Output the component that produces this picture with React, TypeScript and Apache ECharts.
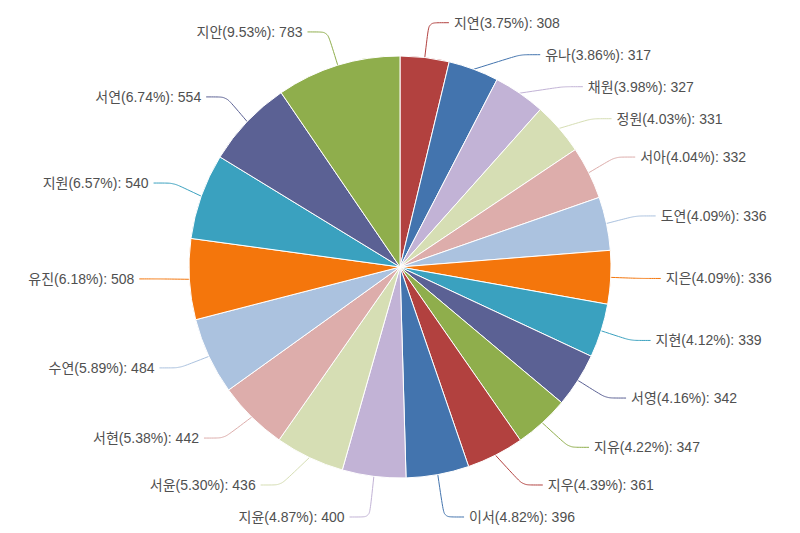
import React, { useEffect, useRef } from 'react';
import * as echarts from 'echarts';

const names = [
  '지연', '유나', '채원', '정원', '서아', '도연', '지은', '지현', '서영', '지유',
  '지우', '이서', '지윤', '서윤', '서현', '수연', '유진', '지원', '서연', '지안',
];
const values = [
  308, 317, 327, 331, 332, 336, 336, 339, 342, 347,
  361, 396, 400, 436, 442, 484, 508, 540, 554, 783,
];
const palette = [
  '#b2413f', '#4374ae', '#c2b3d6', '#d6deb4', '#ddadab',
  '#abc2df', '#f4760c', '#3aa1bf', '#5b6194', '#8fae4c',
];

const total = values.reduce((s, v) => s + v, 0);

const App: React.FC = () => {
  const chartRef = useRef<HTMLDivElement | null>(null);

  useEffect(() => {
    document.body.style.margin = '0';
    if (!chartRef.current) return;
    const chart = echarts.init(chartRef.current, undefined, { renderer: 'svg' });

    chart.setOption({
      animation: false,
      color: palette,
      series: [
        {
          type: 'pie',
          center: [400, 267],
          radius: 211,
          startAngle: 90,
          clockwise: true,
          data: names.map((n, i) => ({ name: n, value: values[i] })),
          itemStyle: { borderColor: '#fff', borderWidth: 1 },
          label: {
            formatter: (p: any) => `${p.name}(${((p.value / total) * 100).toFixed(2)}%): ${p.value}`,
            fontSize: 14,
            lineHeight: 30,
            color: '#505050',
            fontFamily: '"Liberation Sans", "Noto Sans CJK KR", sans-serif',
          },
          labelLine: { length: 35, length2: 20, smooth: 0.2 },
        },
      ],
    });

    return () => {
      chart.dispose();
    };
  }, []);

  return <div ref={chartRef} style={{ width: '800px', height: '533px' }} />;
};

export default App;
